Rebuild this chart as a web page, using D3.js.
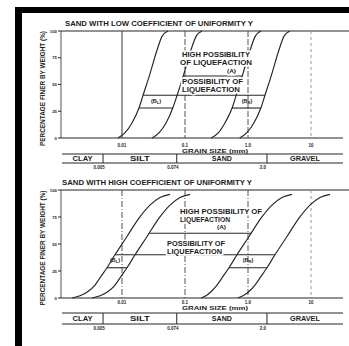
<!DOCTYPE html>
<html>
<head>
<meta charset="utf-8">
<script src="https://cdn.jsdelivr.net/npm/d3@7"></script>
<style>
  body { margin: 0; background: #fff; }
  svg { display: block; }
  text { font-family: "Liberation Sans", Arial, sans-serif; fill: #1c1c1c; font-weight: bold; }
</style>
</head>
<body>
<svg id="chart" width="349" height="346"></svg>
<script>
// grain size axis
const xTicks = [0.01, 0.1, 1, 10];
const xTickLabels = ['0.01', '0.1', '1.0', '10'];
const yTicks = [0, 25, 50, 75, 100];

// soil classification bar
const soilClasses = ['CLAY', 'SILT', 'SAND', 'GRAVEL'];
const soilBounds = [0.005, 0.074, 2.0];
const soilBoundLabels = ['0.005', '0.074', '2.0'];

// grading curves, [grain size mm, percent finer] - low coefficient of uniformity
const lowOuterLeft  = [[0.0086, 0], [0.0112, 5], [0.0144, 14], [0.0186, 28], [0.0216, 40], [0.0278, 60], [0.0359, 82], [0.0432, 95], [0.0537, 100]];
const lowInnerLeft  = [[0.030, 0], [0.039, 5], [0.050, 14], [0.064, 28], [0.075, 40], [0.096, 60], [0.124, 82], [0.150, 95], [0.186, 100]];
const lowInnerRight = [[0.26, 0], [0.34, 5], [0.43, 14], [0.56, 28], [0.65, 40], [0.83, 60], [1.08, 82], [1.30, 95], [1.61, 100]];
const lowOuterRight = [[0.74, 0], [0.96, 5], [1.24, 14], [1.60, 28], [1.86, 40], [2.39, 60], [3.09, 82], [3.72, 95], [4.62, 100]];

// grading curves - high coefficient of uniformity
const highOuterLeft  = [[0.00161, 0], [0.00216, 2], [0.00288, 6], [0.00373, 12], [0.00464, 20], [0.00578, 28], [0.00774, 40], [0.0120, 57], [0.0186, 74], [0.0278, 86], [0.0401, 93], [0.0578, 96]];
const highInnerLeft  = [[0.00335, 0], [0.00449, 2], [0.00599, 6], [0.00776, 12], [0.00965, 20], [0.0120, 28], [0.0161, 40], [0.0250, 57], [0.0387, 74], [0.0578, 86], [0.0834, 93], [0.120, 96]];
const highInnerRight = [[0.18, 0], [0.215, 2], [0.26, 6], [0.322, 12], [0.401, 20], [0.499, 28], [0.669, 40], [1.04, 57], [1.61, 74], [2.40, 86], [3.46, 93], [4.99, 96]];
const highOuterRight = [[0.69, 0], [0.83, 2], [1.04, 6], [1.29, 12], [1.61, 20], [2.00, 28], [2.68, 40], [4.16, 57], [6.45, 74], [9.63, 86], [13.9, 93], [20.0, 96]];

// zone boundary levels (percent finer)
const lowLevels = [58, 40, 28];
const highLevels = [60, 40, 28];

const ink = '#262626';
const svg = d3.select('#chart');

// black scan border (top and left)
svg.append('rect').attr('x', 15).attr('y', 7).attr('width', 334).attr('height', 6).attr('fill', '#000');
svg.append('rect').attr('x', 15).attr('y', 7).attr('width', 7).attr('height', 339).attr('fill', '#000');

const x = d3.scaleLog().domain([0.01, 10]).range([122, 311]);

// grain size on a curve at a given percent (log interpolation between read points)
function sizeAt(curve, p) {
    for (let i = 0; i < curve.length - 1; i++) {
        const a = curve[i], b = curve[i + 1];
        if (p >= a[1] && p <= b[1]) {
            const t = (p - a[1]) / (b[1] - a[1]);
            return Math.pow(10, Math.log10(a[0]) + t * (Math.log10(b[0]) - Math.log10(a[0])));
        }
    }
    return curve[curve.length - 1][0];
}

function label(g, str, xPos, yPos, size, len, anchor, halo) {
    const t = g.append('text')
        .attr('x', xPos).attr('y', yPos)
        .attr('font-size', size)
        .attr('text-anchor', anchor || 'start')
        .text(str);
    if (len) t.attr('textLength', len).attr('lengthAdjust', 'spacingAndGlyphs');
    if (halo) t.attr('stroke', '#fff').attr('stroke-width', 3).attr('paint-order', 'stroke');
    return t;
}

function subLabel(g, sub, xPos, yPos) {
    const t = g.append('text').attr('x', xPos).attr('y', yPos).attr('font-size', 5.5)
        .attr('text-anchor', 'middle');
    t.append('tspan').text('(B');
    t.append('tspan').attr('font-size', 4).attr('dy', 1).text(sub);
    t.append('tspan').attr('dy', -1).text(')');
}

function drawPanel(cfg) {
    const y = d3.scaleLinear().domain([0, 100]).range([cfg.bottom, cfg.top]);
    const g = svg.append('g');

    label(g, cfg.title, cfg.titleX, cfg.top - 5, 6.5, cfg.titleLen);

    // y axis label
    g.append('text')
        .attr('transform', `translate(45,${(cfg.top + cfg.bottom) / 2 + 4}) rotate(-90)`)
        .attr('font-size', 6.3).attr('text-anchor', 'middle')
        .attr('font-weight', 'normal')
        .attr('textLength', 115).attr('lengthAdjust', 'spacingAndGlyphs')
        .text('PERCENTAGE FINER BY WEIGHT (%)');

    // frame
    g.append('line').attr('x1', 61).attr('x2', 61).attr('y1', y(100)).attr('y2', y(0)).attr('stroke', '#555');
    g.append('line').attr('x1', 61).attr('x2', 343).attr('y1', y(0)).attr('y2', y(0)).attr('stroke', ink).attr('stroke-width', 1.2);
    g.append('line').attr('x1', 61).attr('x2', 349).attr('y1', y(100)).attr('y2', y(100)).attr('stroke', ink).attr('stroke-width', 1.2);

    // y ticks
    yTicks.forEach(v => {
        g.append('line').attr('x1', 58).attr('x2', 61).attr('y1', y(v)).attr('y2', y(v)).attr('stroke', ink);
        label(g, v, 57, y(v) + 1.5, 4.3, null, 'end');
    });

    // vertical reference lines at each decade
    xTicks.forEach((v, i) => {
        g.append('line')
            .attr('x1', x(v)).attr('x2', x(v))
            .attr('y1', y(100)).attr('y2', y(0))
            .attr('stroke', i === 3 ? '#999' : cfg.refColors[i])
            .attr('stroke-dasharray', cfg.refDash[i]);
        label(g, xTickLabels[i], x(v), cfg.tickY, 4.5, null, 'middle');
    });

    // grading curves
    const line = d3.line()
        .x(d => x(d[0]))
        .y(d => y(d[1]))
        .curve(d3.curveMonotoneX);
    cfg.curves.forEach(c => {
        g.append('path').attr('d', line(c)).attr('fill', 'none').attr('stroke', ink).attr('stroke-width', 1.15);
    });

    const [oL, iL, iR, oR] = cfg.curves;
    const [aLev, midLev, bLev] = cfg.levels;
    const hline = (c1, c2, p) => g.append('line')
        .attr('x1', x(sizeAt(c1, p))).attr('x2', x(sizeAt(c2, p)))
        .attr('y1', y(p)).attr('y2', y(p))
        .attr('stroke', ink).attr('stroke-width', 1.1);
    hline(iL, iR, aLev);
    hline(oL, oR, midLev);
    hline(oL, iL, bLev);
    hline(iR, oR, bLev);

    // zone text
    cfg.zoneText.forEach(t => label(g, t.s, t.x, t.y, t.size || 6.5, t.len, 'start', true));
    subLabel(g, 'L', cfg.bL[0], cfg.bL[1]);
    subLabel(g, 'R', cfg.bR[0], cfg.bR[1]);

    // grain size title
    label(g, 'GRAIN SIZE (mm)', 215, cfg.grainY, 6, 66, 'middle', true);

    // classification bar
    const barTop = cfg.barTop, barBot = cfg.barTop + cfg.barH;
    g.append('line').attr('x1', 62).attr('x2', 343).attr('y1', barTop).attr('y2', barTop).attr('stroke', ink).attr('stroke-width', 1.1);
    g.append('line').attr('x1', 62).attr('x2', 343).attr('y1', barBot).attr('y2', barBot).attr('stroke', ink).attr('stroke-width', 1.1);
    const edges = [62, ...soilBounds.map(x), 343];
    soilBounds.forEach((b, i) => {
        g.append('line').attr('x1', x(b)).attr('x2', x(b)).attr('y1', barTop).attr('y2', barBot).attr('stroke', ink);
        label(g, soilBoundLabels[i], x(b) - 4, barBot + 5.5, 4.5, null, 'middle');
    });
    soilClasses.forEach((s, i) => {
        label(g, s, (edges[i] + edges[i + 1]) / 2, barTop + cfg.barH / 2 + 2.5, 6.5, s.length * 5, 'middle');
    });
}

drawPanel({
    title: 'SAND WITH LOW COEFFICIENT OF UNIFORMITY Y',
    titleX: 65, titleLen: 188,
    top: 31, bottom: 138,
    curves: [lowOuterLeft, lowInnerLeft, lowInnerRight, lowOuterRight],
    levels: lowLevels,
    refColors: ['#333', '#555', '#555'],
    refDash: [null, '6,2', '6,2', '3,3'],
    zoneText: [
        { s: 'HIGH POSSIBILITY', x: 182, y: 56.5, len: 68 },
        { s: 'OF LIQUEFACTION', x: 180, y: 64.5, len: 72 },
        { s: '(A)', x: 227, y: 72.5, len: 9, size: 5.5 },
        { s: 'POSSIBILITY OF', x: 182, y: 83.5, len: 61 },
        { s: 'LIQUEFACTION', x: 182, y: 91.5, len: 58 }
    ],
    bL: [156, 103], bR: [247, 103],
    tickY: 147,
    grainY: 153,
    barTop: 154, barH: 9
});

drawPanel({
    title: 'SAND WITH HIGH COEFFICIENT OF UNIFORMITY Y',
    titleX: 62, titleLen: 190,
    top: 190, bottom: 298,
    curves: [highOuterLeft, highInnerLeft, highInnerRight, highOuterRight],
    levels: highLevels,
    refColors: ['#555', '#555', '#555'],
    refDash: ['6,2,1,2', '6,2,1,2', '6,2,1,2', '3,3'],
    zoneText: [
        { s: 'HIGH POSSIBILITY OF', x: 180, y: 213.5, len: 82 },
        { s: 'LIQUEFACTION', x: 180, y: 221.5, len: 50 },
        { s: '(A)', x: 217, y: 229, len: 9, size: 5.5 },
        { s: 'POSSIBILITY OF', x: 167, y: 245.5, len: 58 },
        { s: 'LIQUEFACTION', x: 167, y: 253.5, len: 55 }
    ],
    bL: [115, 262], bR: [248, 262],
    tickY: 303.5,
    grainY: 309.5,
    barTop: 313, barH: 11
});
</script>
</body>
</html>
